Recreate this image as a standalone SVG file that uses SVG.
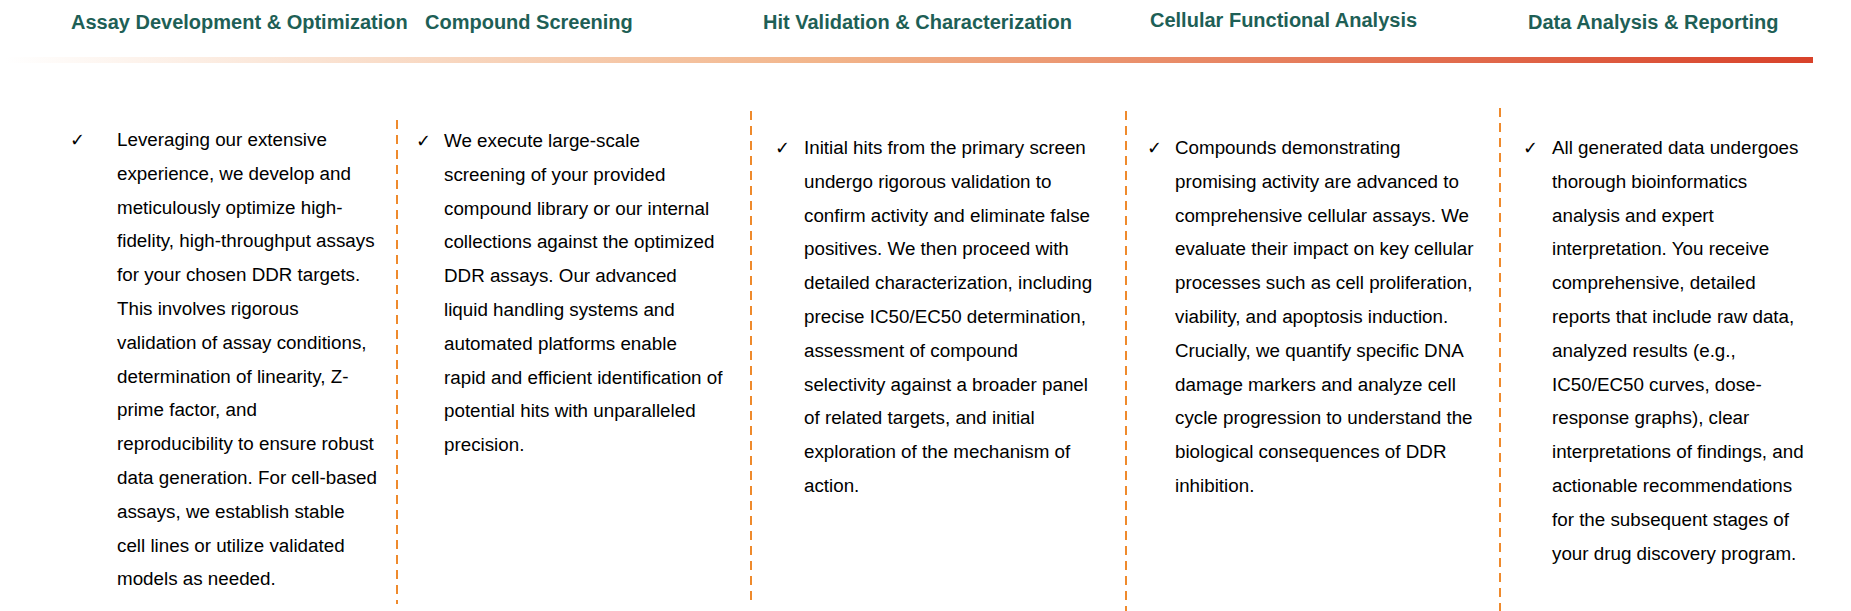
<svg xmlns="http://www.w3.org/2000/svg" width="1851" height="611" viewBox="0 0 1851 611">
<style>
.t{font-family:"Liberation Sans",Arial,sans-serif;font-weight:bold;font-size:20px;fill:#1e5f56}
.b{font-family:"Liberation Sans",Arial,sans-serif;font-size:18.8px;fill:#000}
.c{font-family:"DejaVu Sans",sans-serif;font-size:18px;fill:#000}
.d{stroke:#ef8a2c;stroke-width:2;stroke-dasharray:9,6;fill:none}
</style>
<defs><linearGradient id="g" x1="0" x2="1" y1="0" y2="0"><stop offset="0" stop-color="#fff"/><stop offset="0.45" stop-color="#f2b58b"/><stop offset="1" stop-color="#d8422a"/></linearGradient></defs>
<rect width="1851" height="611" fill="#fff"/>
<rect x="5" y="57" width="1808" height="6" fill="url(#g)"/>
<g id="connectors">
<line class="d" x1="397" y1="120" x2="397" y2="604"/>
<line class="d" x1="751" y1="111" x2="751" y2="600"/>
<line class="d" x1="1126" y1="111" x2="1126" y2="611"/>
<line class="d" x1="1500" y1="108" x2="1500" y2="611"/>
</g>
<g id="n1"><text class="t" x="71" y="29">Assay Development &amp; Optimization</text>
<text class="c" x="70" y="146">✓</text>
<text class="b" x="117" y="146"><tspan x="117">Leveraging our extensive</tspan><tspan x="117" dy="33.8">experience, we develop and</tspan><tspan x="117" dy="33.8">meticulously optimize high-</tspan><tspan x="117" dy="33.8">fidelity, high-throughput assays</tspan><tspan x="117" dy="33.8">for your chosen DDR targets.</tspan><tspan x="117" dy="33.8">This involves rigorous</tspan><tspan x="117" dy="33.8">validation of assay conditions,</tspan><tspan x="117" dy="33.8">determination of linearity, Z-</tspan><tspan x="117" dy="33.8">prime factor, and</tspan><tspan x="117" dy="33.8">reproducibility to ensure robust</tspan><tspan x="117" dy="33.8">data generation. For cell-based</tspan><tspan x="117" dy="33.8">assays, we establish stable</tspan><tspan x="117" dy="33.8">cell lines or utilize validated</tspan><tspan x="117" dy="33.8">models as needed.</tspan></text></g>
<g id="n2"><text class="t" x="425" y="29">Compound Screening</text>
<text class="c" x="416" y="147">✓</text>
<text class="b" x="444" y="147"><tspan x="444">We execute large-scale</tspan><tspan x="444" dy="33.8">screening of your provided</tspan><tspan x="444" dy="33.8">compound library or our internal</tspan><tspan x="444" dy="33.8">collections against the optimized</tspan><tspan x="444" dy="33.8">DDR assays. Our advanced</tspan><tspan x="444" dy="33.8">liquid handling systems and</tspan><tspan x="444" dy="33.8">automated platforms enable</tspan><tspan x="444" dy="33.8">rapid and efficient identification of</tspan><tspan x="444" dy="33.8">potential hits with unparalleled</tspan><tspan x="444" dy="33.8">precision.</tspan></text></g>
<g id="n3"><text class="t" x="763" y="29">Hit Validation &amp; Characterization</text>
<text class="c" x="775" y="154">✓</text>
<text class="b" x="804" y="154"><tspan x="804">Initial hits from the primary screen</tspan><tspan x="804" dy="33.8">undergo rigorous validation to</tspan><tspan x="804" dy="33.8">confirm activity and eliminate false</tspan><tspan x="804" dy="33.8">positives. We then proceed with</tspan><tspan x="804" dy="33.8">detailed characterization, including</tspan><tspan x="804" dy="33.8">precise IC50/EC50 determination,</tspan><tspan x="804" dy="33.8">assessment of compound</tspan><tspan x="804" dy="33.8">selectivity against a broader panel</tspan><tspan x="804" dy="33.8">of related targets, and initial</tspan><tspan x="804" dy="33.8">exploration of the mechanism of</tspan><tspan x="804" dy="33.8">action.</tspan></text></g>
<g id="n4"><text class="t" x="1150" y="27">Cellular Functional Analysis</text>
<text class="c" x="1147" y="154">✓</text>
<text class="b" x="1175" y="154"><tspan x="1175">Compounds demonstrating</tspan><tspan x="1175" dy="33.8">promising activity are advanced to</tspan><tspan x="1175" dy="33.8">comprehensive cellular assays. We</tspan><tspan x="1175" dy="33.8">evaluate their impact on key cellular</tspan><tspan x="1175" dy="33.8">processes such as cell proliferation,</tspan><tspan x="1175" dy="33.8">viability, and apoptosis induction.</tspan><tspan x="1175" dy="33.8">Crucially, we quantify specific DNA</tspan><tspan x="1175" dy="33.8">damage markers and analyze cell</tspan><tspan x="1175" dy="33.8">cycle progression to understand the</tspan><tspan x="1175" dy="33.8">biological consequences of DDR</tspan><tspan x="1175" dy="33.8">inhibition.</tspan></text></g>
<g id="n5"><text class="t" x="1528" y="29">Data Analysis &amp; Reporting</text>
<text class="c" x="1523" y="154">✓</text>
<text class="b" x="1552" y="154"><tspan x="1552">All generated data undergoes</tspan><tspan x="1552" dy="33.8">thorough bioinformatics</tspan><tspan x="1552" dy="33.8">analysis and expert</tspan><tspan x="1552" dy="33.8">interpretation. You receive</tspan><tspan x="1552" dy="33.8">comprehensive, detailed</tspan><tspan x="1552" dy="33.8">reports that include raw data,</tspan><tspan x="1552" dy="33.8">analyzed results (e.g.,</tspan><tspan x="1552" dy="33.8">IC50/EC50 curves, dose-</tspan><tspan x="1552" dy="33.8">response graphs), clear</tspan><tspan x="1552" dy="33.8">interpretations of findings, and</tspan><tspan x="1552" dy="33.8">actionable recommendations</tspan><tspan x="1552" dy="33.8">for the subsequent stages of</tspan><tspan x="1552" dy="33.8">your drug discovery program.</tspan></text></g>
</svg>
